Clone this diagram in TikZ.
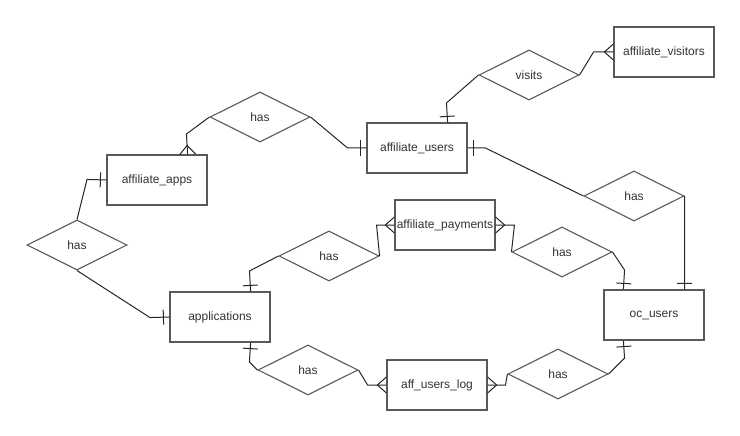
\documentclass[tikz,border=0pt]{standalone}
\usepackage{fontspec}
\setmainfont{Liberation Sans}
\usetikzlibrary{shapes.geometric,decorations.markings}

\begin{document}
\begin{tikzpicture}[x=1pt,y=-1pt,
  entity/.style={draw=black!65,line width=1.2pt,minimum width=100pt,minimum height=50pt,
    inner sep=0pt,text=black!80,font=\fontsize{12}{14}\selectfont},
  relation/.style={diamond,aspect=2,draw=black!65,line width=1.1pt,minimum width=100pt,
    minimum height=50pt,inner sep=0pt,text=black!80,font=\fontsize{12}{14}\selectfont},
  link/.style={draw=black!85,line width=1pt},
  onemark/.style={link,postaction={decorate,decoration={markings,
    mark=at position -6pt with {\draw[black!85,line width=1pt] (0,-7.5pt) -- (0,7.5pt);}}}},
  manymark/.style={link,postaction={decorate,decoration={markings,
    mark=at position -9pt with {\draw[black!85,line width=1pt] (9pt,-8pt) -- (0,0) -- (9pt,8pt);}}}}]
\useasboundingbox[fill=white] (0,0) rectangle (740,436);

% entities
\node[entity] (av) at (664,52) {affiliate\_visitors};
\node[entity] (au) at (417,148) {affiliate\_users};
\node[entity] (aa) at (157,180) {affiliate\_apps};
\node[entity] (ap) at (220,317) {applications};
\node[entity] (pay) at (445,225) {affiliate\_payments};
\node[entity] (log) at (437,385) {aff\_users\_log};
\node[entity] (oc) at (654,315) {oc\_users};

% relations
\node[relation] (visits) at (529,75) {visits};
\node[relation] (hasA) at (260,117) {has};
\node[relation] (hasB) at (77,245) {has};
\node[relation] (hasC) at (329,256) {has};
\node[relation] (hasD) at (562,252) {has};
\node[relation] (hasE) at (634,196) {has};
\node[relation] (hasF) at (308,370) {has};
\node[relation] (hasG) at (558,374) {has};

% links
\draw[onemark] (visits.west) -- ++(-32,28) -- ([xshift=-20pt]au.north east);
\draw[manymark] (visits.east) -- ++(14,-23) -- (av.west);
\draw[manymark] (hasA.west) -- ++(-23,17) -- ([xshift=-20pt]aa.north east);
\draw[onemark] (hasA.east) -- ++(37,31) -- (au.west);
\draw[onemark] (hasB.north) -- ++(10,-40) -- (aa.west);
\draw[onemark] (hasB.south) -- ++(73,47) -- (ap.west);
\draw[onemark] (hasC.west) -- ++(-29,15) -- ([xshift=-20pt]ap.north east);
\draw[manymark] (hasC.east) -- ++(-3,-31) -- (pay.west);
\draw[manymark] (hasD.west) -- ++(3,-27) -- (pay.east);
\draw[onemark] (hasD.east) -- ++(12,18) -- ([xshift=20pt]oc.north west);
\draw[onemark] (hasE.east) -- ([xshift=-20pt]oc.north east);
\draw[onemark] (hasE.west) -- ++(-98,-48) -- (au.east);
\draw[onemark] (hasF.west) -- ++(-8,-8) -- ([xshift=-20pt]ap.south east);
\draw[manymark] (hasF.east) -- ++(9,15) -- (log.west);
\draw[manymark] (hasG.west) -- ++(-2,11) -- (log.east);
\draw[onemark] (hasG.east) -- ++(16,-16) -- ([xshift=20pt]oc.south west);
\end{tikzpicture}
\end{document}
